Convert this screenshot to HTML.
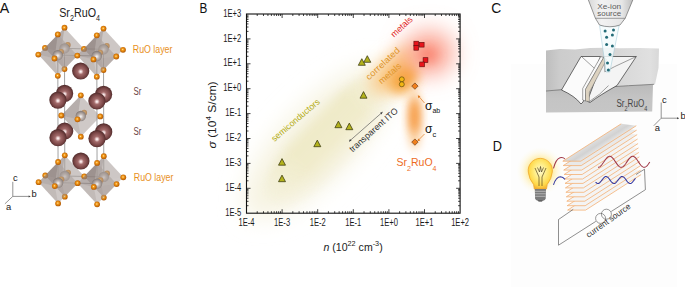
<!DOCTYPE html>
<html><head><meta charset="utf-8"><style>
html,body{margin:0;padding:0;background:#fff;}
body{width:685px;height:287px;overflow:hidden;font-family:"Liberation Sans", sans-serif;}
svg{display:block;}
</style></head><body>
<svg width="685" height="287" viewBox="0 0 685 287" style="font-family:&quot;Liberation Sans&quot;, sans-serif">

<defs>
 <radialGradient id="gO" cx="45%" cy="45%" r="60%">
  <stop offset="0" stop-color="#ffe8a8"/>
  <stop offset="0.3" stop-color="#f59a18"/>
  <stop offset="1" stop-color="#a85000"/>
 </radialGradient>
 <radialGradient id="gRu" cx="50%" cy="55%" r="60%">
  <stop offset="0" stop-color="#f8f6f4"/>
  <stop offset="0.35" stop-color="#c4bab6"/>
  <stop offset="1" stop-color="#746a66"/>
 </radialGradient>
 <radialGradient id="gSr" cx="50%" cy="52%" r="52%" fx="50%" fy="54%">
  <stop offset="0" stop-color="#ffffff"/>
  <stop offset="0.1" stop-color="#f2dcdc"/>
  <stop offset="0.32" stop-color="#a26a6a"/>
  <stop offset="0.72" stop-color="#7a4646"/>
  <stop offset="1" stop-color="#4c2828"/>
 </radialGradient>
 <radialGradient id="gSemi" cx="50%" cy="50%" r="50%">
  <stop offset="0" stop-color="#e9e2b0" stop-opacity="1"/>
  <stop offset="0.5" stop-color="#efe9c4" stop-opacity="0.85"/>
  <stop offset="1" stop-color="#f6f2dc" stop-opacity="0"/>
 </radialGradient>
 <radialGradient id="gOr" cx="50%" cy="50%" r="50%">
  <stop offset="0" stop-color="#f7a640" stop-opacity="1"/>
  <stop offset="0.5" stop-color="#fbc070" stop-opacity="0.6"/>
  <stop offset="1" stop-color="#fde0b0" stop-opacity="0"/>
 </radialGradient>
 <radialGradient id="gRed" cx="50%" cy="50%" r="50%">
  <stop offset="0" stop-color="#fb6a55" stop-opacity="1"/>
  <stop offset="0.45" stop-color="#fc9a85" stop-opacity="0.7"/>
  <stop offset="1" stop-color="#ffe0d8" stop-opacity="0"/>
 </radialGradient>
 <radialGradient id="gStreak" cx="50%" cy="50%" r="50%">
  <stop offset="0" stop-color="#f8a048" stop-opacity="1"/>
  <stop offset="0.6" stop-color="#fbc488" stop-opacity="0.6"/>
  <stop offset="1" stop-color="#fde6cc" stop-opacity="0"/>
 </radialGradient>
 <radialGradient id="gGlow" cx="50%" cy="50%" r="50%">
  <stop offset="0" stop-color="#ffe470" stop-opacity="1"/>
  <stop offset="0.5" stop-color="#ffe98e" stop-opacity="0.8"/>
  <stop offset="0.78" stop-color="#fff4c8" stop-opacity="0.35"/>
  <stop offset="1" stop-color="#fffbe8" stop-opacity="0"/>
 </radialGradient>
 <radialGradient id="gBulb" cx="50%" cy="42%" r="58%">
  <stop offset="0" stop-color="#fffad0"/>
  <stop offset="0.45" stop-color="#ffec80"/>
  <stop offset="0.8" stop-color="#ffd848"/>
  <stop offset="1" stop-color="#f5b434"/>
 </radialGradient>
 <filter id="blur9" x="-100%" y="-100%" width="300%" height="300%"><feGaussianBlur stdDeviation="9"/></filter>
 <filter id="blur7" x="-100%" y="-100%" width="300%" height="300%"><feGaussianBlur stdDeviation="7"/></filter>
 <filter id="blur5" x="-100%" y="-100%" width="300%" height="300%"><feGaussianBlur stdDeviation="5"/></filter>
 <filter id="blur6" x="-100%" y="-100%" width="300%" height="300%"><feGaussianBlur stdDeviation="6"/></filter>
 <filter id="blur8" x="-100%" y="-100%" width="300%" height="300%"><feGaussianBlur stdDeviation="8"/></filter>
 <filter id="blur10" x="-100%" y="-100%" width="300%" height="300%"><feGaussianBlur stdDeviation="10"/></filter>
 <linearGradient id="gBand" x1="0" y1="0" x2="1" y2="0">
  <stop offset="0" stop-color="#f4f0d6"/>
  <stop offset="0.3" stop-color="#ece6c2"/>
  <stop offset="1" stop-color="#ece6c2"/>
 </linearGradient>
 <filter id="blur12" x="-100%" y="-100%" width="300%" height="300%"><feGaussianBlur stdDeviation="12"/></filter>
 <linearGradient id="gBand2" x1="0" y1="0" x2="0" y2="1">
  <stop offset="0" stop-color="#efeac8" stop-opacity="0"/>
  <stop offset="0.2" stop-color="#efeac8" stop-opacity="1"/>
  <stop offset="0.55" stop-color="#f0ebca" stop-opacity="0.95"/>
  <stop offset="1" stop-color="#f4f0da" stop-opacity="0"/>
 </linearGradient>
 <linearGradient id="gMaskU" x1="0" y1="0" x2="1" y2="0">
  <stop offset="0" stop-color="#fff" stop-opacity="0"/>
  <stop offset="0.3" stop-color="#fff" stop-opacity="1"/>
  <stop offset="0.72" stop-color="#fff" stop-opacity="1"/>
  <stop offset="0.95" stop-color="#fff" stop-opacity="0"/>
 </linearGradient>
 <mask id="mBand" maskUnits="userSpaceOnUse" x="200" y="0" width="300" height="260">
  <rect x="-90" y="-45" width="180" height="90" fill="url(#gMaskU)" transform="translate(331,139) rotate(-46)"/>
 </mask>
 <filter id="blur3" x="-100%" y="-100%" width="300%" height="300%"><feGaussianBlur stdDeviation="3"/></filter>
 <linearGradient id="gSrc" x1="0" y1="0" x2="1" y2="0">
  <stop offset="0" stop-color="#d8d8d8"/>
  <stop offset="0.3" stop-color="#f2f2f2"/>
  <stop offset="0.75" stop-color="#e6e6e6"/>
  <stop offset="1" stop-color="#bdbdbd"/>
 </linearGradient>
 <linearGradient id="gBlockTop" x1="0" y1="0" x2="1" y2="0">
  <stop offset="0" stop-color="#bebebe"/>
  <stop offset="0.12" stop-color="#cccccc"/>
  <stop offset="0.6" stop-color="#d6d6d6"/>
  <stop offset="0.92" stop-color="#e0e0e0"/>
  <stop offset="1" stop-color="#d8d8d8"/>
 </linearGradient>
 <linearGradient id="gBlockFront" x1="0" y1="0" x2="0" y2="1">
  <stop offset="0" stop-color="#bababa"/>
  <stop offset="0.5" stop-color="#c4c4c4"/>
  <stop offset="1" stop-color="#c6c6c6"/>
 </linearGradient>
 <linearGradient id="gPlate" gradientUnits="userSpaceOnUse" x1="592" y1="142.5" x2="597.4" y2="150.9">
  <stop offset="0" stop-color="#dedede"/>
  <stop offset="0.5" stop-color="#d2d2d2"/>
  <stop offset="1" stop-color="#e6e6e6"/>
 </linearGradient>
</defs>

<rect width="685" height="287" fill="#fff"/>
<g><line x1="64.5" y1="48.4" x2="64.8" y2="176.0" stroke="#8a8a8a" stroke-width="0.8"/><line x1="103.5" y1="49.3" x2="103.8" y2="176.9" stroke="#8a8a8a" stroke-width="0.8"/><line x1="57.8" y1="55.1" x2="58.1" y2="182.7" stroke="#8a8a8a" stroke-width="0.8"/><line x1="96.8" y1="56.0" x2="97.1" y2="183.6" stroke="#8a8a8a" stroke-width="0.8"/><line x1="64.5" y1="48.4" x2="57.8" y2="55.1" stroke="#8a8a8a" stroke-width="0.8"/><line x1="103.5" y1="49.3" x2="96.8" y2="56.0" stroke="#8a8a8a" stroke-width="0.8"/><line x1="64.5" y1="48.4" x2="103.5" y2="49.3" stroke="#8a8a8a" stroke-width="0.8"/><line x1="57.8" y1="55.1" x2="96.8" y2="56.0" stroke="#8a8a8a" stroke-width="0.8"/><line x1="64.8" y1="176.0" x2="58.1" y2="182.7" stroke="#8a8a8a" stroke-width="0.8"/><line x1="103.8" y1="176.9" x2="97.1" y2="183.6" stroke="#8a8a8a" stroke-width="0.8"/><line x1="64.8" y1="176.0" x2="103.8" y2="176.9" stroke="#8a8a8a" stroke-width="0.8"/><line x1="58.1" y1="182.7" x2="97.1" y2="183.6" stroke="#8a8a8a" stroke-width="0.8"/><circle cx="107.1" cy="173.5" r="2.9" fill="url(#gO)"/><circle cx="106.8" cy="45.9" r="2.9" fill="url(#gO)"/><circle cx="67.8" cy="45.0" r="2.9" fill="url(#gO)"/><circle cx="68.1" cy="172.6" r="2.9" fill="url(#gO)"/><polygon points="103.5,28.6 84.0,48.9 103.5,70.0 123.0,49.8" fill="#a0948f" fill-opacity="0.5"/><polygon points="103.5,28.6 84.0,48.9 100.2,52.6" fill="#7e726e" fill-opacity="0.3"/><polygon points="103.5,28.6 100.2,52.6 123.0,49.8" fill="#cac2be" fill-opacity="0.2"/><polygon points="103.5,70.0 84.0,48.9 100.2,52.6" fill="#968a86" fill-opacity="0.22"/><polygon points="103.8,156.2 84.3,176.4 103.8,197.6 123.3,177.3" fill="#a0948f" fill-opacity="0.5"/><polygon points="103.8,156.2 84.3,176.4 100.5,180.2" fill="#7e726e" fill-opacity="0.3"/><polygon points="103.8,156.2 100.5,180.2 123.3,177.3" fill="#cac2be" fill-opacity="0.2"/><polygon points="103.8,197.6 84.3,176.4 100.5,180.2" fill="#968a86" fill-opacity="0.22"/><polygon points="64.5,27.7 45.0,47.9 64.5,69.1 84.0,48.9" fill="#a0948f" fill-opacity="0.5"/><polygon points="64.5,27.7 45.0,47.9 61.1,51.8" fill="#7e726e" fill-opacity="0.3"/><polygon points="64.5,27.7 61.1,51.8 84.0,48.9" fill="#cac2be" fill-opacity="0.2"/><polygon points="64.5,69.1 45.0,47.9 61.1,51.8" fill="#968a86" fill-opacity="0.22"/><polygon points="64.8,155.3 45.3,175.5 64.8,196.7 84.3,176.4" fill="#a0948f" fill-opacity="0.5"/><polygon points="64.8,155.3 45.3,175.5 61.4,179.3" fill="#7e726e" fill-opacity="0.3"/><polygon points="64.8,155.3 61.4,179.3 84.3,176.4" fill="#cac2be" fill-opacity="0.2"/><polygon points="64.8,196.7 45.3,175.5 61.4,179.3" fill="#968a86" fill-opacity="0.22"/><circle cx="103.5" cy="49.3" r="5.2" fill="url(#gRu)"/><circle cx="103.8" cy="176.9" r="5.2" fill="url(#gRu)"/><circle cx="64.5" cy="48.4" r="5.2" fill="url(#gRu)"/><circle cx="64.8" cy="176.0" r="5.2" fill="url(#gRu)"/><circle cx="103.6" cy="94.3" r="8.6" fill="url(#gSr)"/><circle cx="103.7" cy="131.9" r="8.6" fill="url(#gSr)"/><circle cx="123.3" cy="177.3" r="2.9" fill="url(#gO)"/><circle cx="123.0" cy="49.8" r="2.9" fill="url(#gO)"/><circle cx="103.8" cy="156.2" r="2.9" fill="url(#gO)"/><circle cx="103.5" cy="28.6" r="2.9" fill="url(#gO)"/><circle cx="103.8" cy="197.6" r="2.9" fill="url(#gO)"/><circle cx="103.5" cy="70.0" r="2.9" fill="url(#gO)"/><circle cx="64.6" cy="93.4" r="8.6" fill="url(#gSr)"/><circle cx="64.7" cy="131.0" r="8.6" fill="url(#gSr)"/><circle cx="84.0" cy="48.9" r="2.9" fill="url(#gO)"/><circle cx="84.2" cy="112.7" r="2.9" fill="url(#gO)"/><circle cx="84.3" cy="176.4" r="2.9" fill="url(#gO)"/><circle cx="64.8" cy="196.7" r="2.9" fill="url(#gO)"/><circle cx="64.5" cy="69.1" r="2.9" fill="url(#gO)"/><circle cx="64.8" cy="155.3" r="2.9" fill="url(#gO)"/><circle cx="64.5" cy="27.7" r="2.9" fill="url(#gO)"/><circle cx="45.3" cy="175.5" r="2.9" fill="url(#gO)"/><circle cx="45.0" cy="47.9" r="2.9" fill="url(#gO)"/><polygon points="80.8,95.3 61.3,115.5 80.8,136.7 100.3,116.4" fill="#a0948f" fill-opacity="0.5"/><polygon points="80.8,95.3 61.3,115.5 77.5,119.3" fill="#7e726e" fill-opacity="0.3"/><polygon points="80.8,95.3 77.5,119.3 100.3,116.4" fill="#cac2be" fill-opacity="0.2"/><polygon points="80.8,136.7 61.3,115.5 77.5,119.3" fill="#968a86" fill-opacity="0.22"/><circle cx="80.8" cy="116.0" r="5.2" fill="url(#gRu)"/><circle cx="80.7" cy="71.0" r="8.6" fill="url(#gSr)"/><circle cx="80.9" cy="161.0" r="8.6" fill="url(#gSr)"/><circle cx="100.2" cy="52.6" r="2.9" fill="url(#gO)"/><circle cx="100.3" cy="116.4" r="2.9" fill="url(#gO)"/><circle cx="100.5" cy="180.2" r="2.9" fill="url(#gO)"/><circle cx="80.8" cy="136.7" r="2.9" fill="url(#gO)"/><circle cx="80.8" cy="95.3" r="2.9" fill="url(#gO)"/><circle cx="61.4" cy="179.3" r="2.9" fill="url(#gO)"/><circle cx="61.1" cy="51.8" r="2.9" fill="url(#gO)"/><circle cx="61.3" cy="115.5" r="2.9" fill="url(#gO)"/><polygon points="96.8,35.3 77.3,55.6 96.8,76.7 116.3,56.5" fill="#a0948f" fill-opacity="0.5"/><polygon points="96.8,35.3 77.3,55.6 93.5,59.4" fill="#7e726e" fill-opacity="0.3"/><polygon points="96.8,35.3 93.5,59.4 116.3,56.5" fill="#cac2be" fill-opacity="0.2"/><polygon points="96.8,76.7 77.3,55.6 93.5,59.4" fill="#968a86" fill-opacity="0.22"/><polygon points="97.1,162.9 77.6,183.2 97.1,204.3 116.6,184.1" fill="#a0948f" fill-opacity="0.5"/><polygon points="97.1,162.9 77.6,183.2 93.8,186.9" fill="#7e726e" fill-opacity="0.3"/><polygon points="97.1,162.9 93.8,186.9 116.6,184.1" fill="#cac2be" fill-opacity="0.2"/><polygon points="97.1,204.3 77.6,183.2 93.8,186.9" fill="#968a86" fill-opacity="0.22"/><polygon points="57.8,34.4 38.3,54.6 57.8,75.8 77.3,55.6" fill="#a0948f" fill-opacity="0.5"/><polygon points="57.8,34.4 38.3,54.6 54.5,58.5" fill="#7e726e" fill-opacity="0.3"/><polygon points="57.8,34.4 54.5,58.5 77.3,55.6" fill="#cac2be" fill-opacity="0.2"/><polygon points="57.8,75.8 38.3,54.6 54.5,58.5" fill="#968a86" fill-opacity="0.22"/><polygon points="58.1,162.0 38.6,182.2 58.1,203.4 77.6,183.2" fill="#a0948f" fill-opacity="0.5"/><polygon points="58.1,162.0 38.6,182.2 54.8,186.1" fill="#7e726e" fill-opacity="0.3"/><polygon points="58.1,162.0 54.8,186.1 77.6,183.2" fill="#cac2be" fill-opacity="0.2"/><polygon points="58.1,203.4 38.6,182.2 54.8,186.1" fill="#968a86" fill-opacity="0.22"/><circle cx="96.8" cy="56.0" r="5.2" fill="url(#gRu)"/><circle cx="97.1" cy="183.6" r="5.2" fill="url(#gRu)"/><circle cx="57.8" cy="55.1" r="5.2" fill="url(#gRu)"/><circle cx="58.1" cy="182.7" r="5.2" fill="url(#gRu)"/><circle cx="96.9" cy="101.0" r="8.6" fill="url(#gSr)"/><circle cx="97.0" cy="138.6" r="8.6" fill="url(#gSr)"/><circle cx="116.6" cy="184.1" r="2.9" fill="url(#gO)"/><circle cx="116.3" cy="56.5" r="2.9" fill="url(#gO)"/><circle cx="96.8" cy="76.7" r="2.9" fill="url(#gO)"/><circle cx="97.1" cy="162.9" r="2.9" fill="url(#gO)"/><circle cx="96.8" cy="35.3" r="2.9" fill="url(#gO)"/><circle cx="97.1" cy="204.3" r="2.9" fill="url(#gO)"/><circle cx="57.9" cy="100.1" r="8.6" fill="url(#gSr)"/><circle cx="58.0" cy="137.7" r="8.6" fill="url(#gSr)"/><circle cx="77.3" cy="55.6" r="2.9" fill="url(#gO)"/><circle cx="77.5" cy="119.3" r="2.9" fill="url(#gO)"/><circle cx="77.6" cy="183.2" r="2.9" fill="url(#gO)"/><circle cx="58.1" cy="203.4" r="2.9" fill="url(#gO)"/><circle cx="57.8" cy="75.8" r="2.9" fill="url(#gO)"/><circle cx="58.1" cy="162.0" r="2.9" fill="url(#gO)"/><circle cx="57.8" cy="34.4" r="2.9" fill="url(#gO)"/><circle cx="38.6" cy="182.2" r="2.9" fill="url(#gO)"/><circle cx="38.3" cy="54.6" r="2.9" fill="url(#gO)"/><circle cx="93.8" cy="186.9" r="2.9" fill="url(#gO)"/><circle cx="93.5" cy="59.4" r="2.9" fill="url(#gO)"/><circle cx="54.8" cy="186.1" r="2.9" fill="url(#gO)"/><circle cx="54.5" cy="58.5" r="2.9" fill="url(#gO)"/></g>
<path d="M12.8 196.4 V181.8 M12.8 196.4 H30 M12.8 196.4 L4.9 203.8" stroke="#666" stroke-width="0.7" fill="none"/><path d="M30.8 196.4 l-2.2 -1 v2 z" fill="#444"/><text x="13.1" y="180.6" font-size="9.4" fill="#222" >c</text><text x="31.4" y="197.1" font-size="9.4" fill="#222" >b</text><text x="6.1" y="209.6" font-size="9.4" fill="#222" >a</text>
<text x="-0.3" y="12.5" font-size="14.5" fill="#111" textLength="9.5" lengthAdjust="spacingAndGlyphs" >A</text><text x="199.6" y="12.6" font-size="14.5" fill="#111" textLength="7.8" lengthAdjust="spacingAndGlyphs" >B</text><text x="491.3" y="12.6" font-size="14.5" fill="#111" textLength="10" lengthAdjust="spacingAndGlyphs" >C</text><text x="492.8" y="151.4" font-size="14.5" fill="#111" textLength="9.2" lengthAdjust="spacingAndGlyphs" >D</text><text x="59.2" y="16.6" font-size="12.2" fill="#222" textLength="40.8" lengthAdjust="spacingAndGlyphs" >Sr<tspan font-size="8.2" dy="4">2</tspan><tspan dy="-4">RuO</tspan><tspan font-size="8.2" dy="4">4</tspan></text><text x="132.8" y="53.3" font-size="10" fill="#e8901c" textLength="39.6" lengthAdjust="spacingAndGlyphs" >RuO layer</text><text x="133.6" y="94.5" font-size="10" fill="#6a4242" textLength="7.9" lengthAdjust="spacingAndGlyphs" >Sr</text><text x="133.6" y="134.5" font-size="10" fill="#6a4242" textLength="7.9" lengthAdjust="spacingAndGlyphs" >Sr</text><text x="133.8" y="181.2" font-size="10" fill="#e8901c" textLength="39.6" lengthAdjust="spacingAndGlyphs" >RuO layer</text>
<g><g filter="url(#blur12)"><ellipse cx="0" cy="0" rx="100" ry="36" fill="#f6f3e0" transform="translate(318,142) rotate(-46)"/></g><g mask="url(#mBand)"><g filter="url(#blur3)"><ellipse cx="0" cy="0" rx="90" ry="32" fill="url(#gBand2)" transform="translate(331,139) rotate(-46)"/></g></g><g filter="url(#blur8)"><ellipse cx="0" cy="0" rx="30" ry="14" fill="#fac884" transform="translate(394,70) rotate(-45)"/></g><g filter="url(#blur6)"><ellipse cx="0" cy="0" rx="17" ry="12" fill="#f6a63c" transform="translate(404,79) rotate(-45)"/></g><g filter="url(#blur5)"><ellipse cx="0" cy="0" rx="6" ry="30" fill="#fbc890" transform="translate(414.5,120)"/></g><g filter="url(#blur5)"><ellipse cx="0" cy="0" rx="4.5" ry="17" fill="#f59235" transform="translate(414.5,116)"/></g><g filter="url(#blur12)"><ellipse cx="0" cy="0" rx="24" ry="21" fill="#fb9a86" transform="translate(429,53)"/></g><g filter="url(#blur6)"><ellipse cx="0" cy="0" rx="7" ry="7" fill="#f97a66" transform="translate(428,55)"/></g><rect x="246.5" y="14.0" width="213.6" height="199.2" fill="none" stroke="#111" stroke-width="1.1"/><path d="M257.22 213.20v-2M257.22 14.00v2M263.49 213.20v-2M263.49 14.00v2M267.93 213.20v-2M267.93 14.00v2M271.38 213.20v-2M271.38 14.00v2M274.20 213.20v-2M274.20 14.00v2M276.59 213.20v-2M276.59 14.00v2M278.65 213.20v-2M278.65 14.00v2M280.47 213.20v-2M280.47 14.00v2M282.10 213.20v-4M282.10 14.00v4M292.82 213.20v-2M292.82 14.00v2M299.09 213.20v-2M299.09 14.00v2M303.53 213.20v-2M303.53 14.00v2M306.98 213.20v-2M306.98 14.00v2M309.80 213.20v-2M309.80 14.00v2M312.19 213.20v-2M312.19 14.00v2M314.25 213.20v-2M314.25 14.00v2M316.07 213.20v-2M316.07 14.00v2M317.70 213.20v-4M317.70 14.00v4M328.42 213.20v-2M328.42 14.00v2M334.69 213.20v-2M334.69 14.00v2M339.13 213.20v-2M339.13 14.00v2M342.58 213.20v-2M342.58 14.00v2M345.40 213.20v-2M345.40 14.00v2M347.79 213.20v-2M347.79 14.00v2M349.85 213.20v-2M349.85 14.00v2M351.67 213.20v-2M351.67 14.00v2M353.30 213.20v-4M353.30 14.00v4M364.02 213.20v-2M364.02 14.00v2M370.29 213.20v-2M370.29 14.00v2M374.73 213.20v-2M374.73 14.00v2M378.18 213.20v-2M378.18 14.00v2M381.00 213.20v-2M381.00 14.00v2M383.39 213.20v-2M383.39 14.00v2M385.45 213.20v-2M385.45 14.00v2M387.27 213.20v-2M387.27 14.00v2M388.90 213.20v-4M388.90 14.00v4M399.62 213.20v-2M399.62 14.00v2M405.89 213.20v-2M405.89 14.00v2M410.33 213.20v-2M410.33 14.00v2M413.78 213.20v-2M413.78 14.00v2M416.60 213.20v-2M416.60 14.00v2M418.99 213.20v-2M418.99 14.00v2M421.05 213.20v-2M421.05 14.00v2M422.87 213.20v-2M422.87 14.00v2M424.50 213.20v-4M424.50 14.00v4M435.22 213.20v-2M435.22 14.00v2M441.49 213.20v-2M441.49 14.00v2M445.93 213.20v-2M445.93 14.00v2M449.38 213.20v-2M449.38 14.00v2M452.20 213.20v-2M452.20 14.00v2M454.59 213.20v-2M454.59 14.00v2M456.65 213.20v-2M456.65 14.00v2M458.47 213.20v-2M458.47 14.00v2M246.50 205.70h2M460.10 205.70h-2M246.50 201.32h2M460.10 201.32h-2M246.50 198.21h2M460.10 198.21h-2M246.50 195.80h2M460.10 195.80h-2M246.50 193.82h2M460.10 193.82h-2M246.50 192.16h2M460.10 192.16h-2M246.50 190.71h2M460.10 190.71h-2M246.50 189.44h2M460.10 189.44h-2M246.50 188.30h4M460.10 188.30h-4M246.50 180.80h2M460.10 180.80h-2M246.50 176.42h2M460.10 176.42h-2M246.50 173.31h2M460.10 173.31h-2M246.50 170.90h2M460.10 170.90h-2M246.50 168.92h2M460.10 168.92h-2M246.50 167.26h2M460.10 167.26h-2M246.50 165.81h2M460.10 165.81h-2M246.50 164.54h2M460.10 164.54h-2M246.50 163.40h4M460.10 163.40h-4M246.50 155.90h2M460.10 155.90h-2M246.50 151.52h2M460.10 151.52h-2M246.50 148.41h2M460.10 148.41h-2M246.50 146.00h2M460.10 146.00h-2M246.50 144.02h2M460.10 144.02h-2M246.50 142.36h2M460.10 142.36h-2M246.50 140.91h2M460.10 140.91h-2M246.50 139.64h2M460.10 139.64h-2M246.50 138.50h4M460.10 138.50h-4M246.50 131.00h2M460.10 131.00h-2M246.50 126.62h2M460.10 126.62h-2M246.50 123.51h2M460.10 123.51h-2M246.50 121.10h2M460.10 121.10h-2M246.50 119.12h2M460.10 119.12h-2M246.50 117.46h2M460.10 117.46h-2M246.50 116.01h2M460.10 116.01h-2M246.50 114.74h2M460.10 114.74h-2M246.50 113.60h4M460.10 113.60h-4M246.50 106.10h2M460.10 106.10h-2M246.50 101.72h2M460.10 101.72h-2M246.50 98.61h2M460.10 98.61h-2M246.50 96.20h2M460.10 96.20h-2M246.50 94.22h2M460.10 94.22h-2M246.50 92.56h2M460.10 92.56h-2M246.50 91.11h2M460.10 91.11h-2M246.50 89.84h2M460.10 89.84h-2M246.50 88.70h4M460.10 88.70h-4M246.50 81.20h2M460.10 81.20h-2M246.50 76.82h2M460.10 76.82h-2M246.50 73.71h2M460.10 73.71h-2M246.50 71.30h2M460.10 71.30h-2M246.50 69.32h2M460.10 69.32h-2M246.50 67.66h2M460.10 67.66h-2M246.50 66.21h2M460.10 66.21h-2M246.50 64.94h2M460.10 64.94h-2M246.50 63.80h4M460.10 63.80h-4M246.50 56.30h2M460.10 56.30h-2M246.50 51.92h2M460.10 51.92h-2M246.50 48.81h2M460.10 48.81h-2M246.50 46.40h2M460.10 46.40h-2M246.50 44.42h2M460.10 44.42h-2M246.50 42.76h2M460.10 42.76h-2M246.50 41.31h2M460.10 41.31h-2M246.50 40.04h2M460.10 40.04h-2M246.50 38.90h4M460.10 38.90h-4M246.50 31.40h2M460.10 31.40h-2M246.50 27.02h2M460.10 27.02h-2M246.50 23.91h2M460.10 23.91h-2M246.50 21.50h2M460.10 21.50h-2M246.50 19.52h2M460.10 19.52h-2M246.50 17.86h2M460.10 17.86h-2M246.50 16.41h2M460.10 16.41h-2M246.50 15.14h2M460.10 15.14h-2" stroke="#111" stroke-width="0.8" fill="none"/><text x="0" y="0" font-size="10" fill="#1a1a1a" text-anchor="middle" transform="translate(246.5,226.1) scale(0.76,1)">1E-4</text><text x="0" y="0" font-size="10" fill="#1a1a1a" text-anchor="middle" transform="translate(282.1,226.1) scale(0.76,1)">1E-3</text><text x="0" y="0" font-size="10" fill="#1a1a1a" text-anchor="middle" transform="translate(317.7,226.1) scale(0.76,1)">1E-2</text><text x="0" y="0" font-size="10" fill="#1a1a1a" text-anchor="middle" transform="translate(353.3,226.1) scale(0.76,1)">1E-1</text><text x="0" y="0" font-size="10" fill="#1a1a1a" text-anchor="middle" transform="translate(388.9,226.1) scale(0.76,1)">1E+0</text><text x="0" y="0" font-size="10" fill="#1a1a1a" text-anchor="middle" transform="translate(424.5,226.1) scale(0.76,1)">1E+1</text><text x="0" y="0" font-size="10" fill="#1a1a1a" text-anchor="middle" transform="translate(460.1,226.1) scale(0.76,1)">1E+2</text><text x="0" y="0" font-size="10" fill="#1a1a1a" text-anchor="end" transform="translate(241.2,215.8) scale(0.76,1)">1E-5</text><text x="0" y="0" font-size="10" fill="#1a1a1a" text-anchor="end" transform="translate(241.2,190.9) scale(0.76,1)">1E-4</text><text x="0" y="0" font-size="10" fill="#1a1a1a" text-anchor="end" transform="translate(241.2,166.0) scale(0.76,1)">1E-3</text><text x="0" y="0" font-size="10" fill="#1a1a1a" text-anchor="end" transform="translate(241.2,141.1) scale(0.76,1)">1E-2</text><text x="0" y="0" font-size="10" fill="#1a1a1a" text-anchor="end" transform="translate(241.2,116.2) scale(0.76,1)">1E-1</text><text x="0" y="0" font-size="10" fill="#1a1a1a" text-anchor="end" transform="translate(241.2,91.3) scale(0.76,1)">1E+0</text><text x="0" y="0" font-size="10" fill="#1a1a1a" text-anchor="end" transform="translate(241.2,66.4) scale(0.76,1)">1E+1</text><text x="0" y="0" font-size="10" fill="#1a1a1a" text-anchor="end" transform="translate(241.2,41.5) scale(0.76,1)">1E+2</text><text x="0" y="0" font-size="10" fill="#1a1a1a" text-anchor="end" transform="translate(241.2,16.6) scale(0.76,1)">1E+3</text><polygon points="282.0,158.6 278.5,165.2 285.5,165.2" fill="#b3b21c" stroke="#3a3810" stroke-width="0.75" stroke-linejoin="round"/><polygon points="282.0,175.1 278.5,181.7 285.5,181.7" fill="#b3b21c" stroke="#3a3810" stroke-width="0.75" stroke-linejoin="round"/><polygon points="317.3,140.1 313.8,146.7 320.8,146.7" fill="#b3b21c" stroke="#3a3810" stroke-width="0.75" stroke-linejoin="round"/><polygon points="338.4,121.1 334.9,127.7 341.9,127.7" fill="#b3b21c" stroke="#3a3810" stroke-width="0.75" stroke-linejoin="round"/><polygon points="349.3,123.1 345.8,129.7 352.8,129.7" fill="#b3b21c" stroke="#3a3810" stroke-width="0.75" stroke-linejoin="round"/><polygon points="363.5,91.6 360.0,98.2 367.0,98.2" fill="#b3b21c" stroke="#3a3810" stroke-width="0.75" stroke-linejoin="round"/><polygon points="361.8,58.7 358.3,65.3 365.3,65.3" fill="#b3b21c" stroke="#3a3810" stroke-width="0.75" stroke-linejoin="round"/><polygon points="367.3,55.7 363.8,62.3 370.8,62.3" fill="#b3b21c" stroke="#3a3810" stroke-width="0.75" stroke-linejoin="round"/><rect x="413.9" y="41.2" width="4.8" height="4.8" fill="#e8141c" stroke="#5a0a0a" stroke-width="0.6"/><rect x="419.3" y="42.3" width="4.8" height="4.8" fill="#e8141c" stroke="#5a0a0a" stroke-width="0.6"/><rect x="413.9" y="45.4" width="4.8" height="4.8" fill="#e8141c" stroke="#5a0a0a" stroke-width="0.6"/><rect x="423.1" y="57.7" width="4.8" height="4.8" fill="#e8141c" stroke="#5a0a0a" stroke-width="0.6"/><rect x="419.7" y="62.0" width="4.8" height="4.8" fill="#e8141c" stroke="#5a0a0a" stroke-width="0.6"/><circle cx="401.8" cy="79.3" r="2.5" fill="#f2b614" stroke="#4a3a08" stroke-width="0.6"/><circle cx="401.8" cy="84.3" r="2.5" fill="#f2b614" stroke="#4a3a08" stroke-width="0.6"/><polygon points="414.9,82.9 418.1,86.1 414.9,89.3 411.7,86.1" fill="#f07f1c" stroke="#5a2a08" stroke-width="0.6"/><polygon points="414.9,138.9 418.1,142.1 414.9,145.3 411.7,142.1" fill="#f07f1c" stroke="#5a2a08" stroke-width="0.6"/><path d="M424.5 103 L419 96.6" stroke="#e07a20" stroke-width="0.7" fill="none"/><path d="M417.8 95.2 l0.5 3.0 l2.1 -1.9 z" fill="#e07a20"/><path d="M424.5 134 L418.5 140" stroke="#e07a20" stroke-width="0.7" fill="none"/><path d="M417.3 141.2 l3.0 -0.6 l-2.0 -2.0 z" fill="#e07a20"/><text x="425" y="110" font-size="12" fill="#111" >σ<tspan font-size="7" dy="3">ab</tspan></text><text x="425" y="133" font-size="12" fill="#111" >σ<tspan font-size="7.5" dy="3.5">c</tspan></text><text x="396.5" y="166.3" font-size="11.2" fill="#ee6c1e" textLength="40" lengthAdjust="spacingAndGlyphs" >Sr<tspan font-size="7.5" dy="4.5">2</tspan><tspan dy="-4.5">RuO</tspan><tspan font-size="7.5" dy="4.5">4</tspan></text><text x="0" y="0" font-size="8.8" fill="#b3ab12" textLength="60.5" lengthAdjust="spacingAndGlyphs" transform="translate(274.5,142) rotate(-40.5)" >semiconductors</text><text x="0" y="0" font-size="8.8" fill="#e0962c" textLength="43" lengthAdjust="spacingAndGlyphs" transform="translate(369,80.5) rotate(-43)" >correlated</text><text x="0" y="0" font-size="8.8" fill="#e0962c" textLength="27" lengthAdjust="spacingAndGlyphs" transform="translate(381.5,84.5) rotate(-41)" >metals</text><text x="0" y="0" font-size="8.8" fill="#e01c1c" textLength="26" lengthAdjust="spacingAndGlyphs" transform="translate(394,37.8) rotate(-42.5)" >metals</text><text x="0" y="0" font-size="8.8" fill="#333" textLength="61.5" lengthAdjust="spacingAndGlyphs" transform="translate(352.5,152.5) rotate(-41.5)" >transparent ITO</text><path d="M349 141.5 L382.6 112" stroke="#444" stroke-width="0.6"/><path d="M349 141.5 l1.0 -2.6 l1.6 1.8 z M382.6 112 l-1.0 2.6 l-1.6 -1.8 z" fill="#444"/><text x="323.5" y="250.6" font-size="10.2" fill="#222" textLength="59.2" lengthAdjust="spacingAndGlyphs" ><tspan font-style="italic">n</tspan> (10<tspan font-size="7" dy="-4.5">22</tspan><tspan dy="4.5"> cm</tspan><tspan font-size="7" dy="-4.5">-3</tspan><tspan dy="4.5">)</tspan></text><text x="0" y="0" font-size="10.2" fill="#222" textLength="67" lengthAdjust="spacingAndGlyphs" transform="translate(215.5,148.4) rotate(-90)" ><tspan font-style="italic">σ</tspan> (10<tspan font-size="7" dy="-4.5">4</tspan><tspan dy="4.5"> S/cm)</tspan></text></g>
<g><rect x="511" y="64" width="166" height="223" fill="#fdfdfd"/><path d="M546 50.5 L560 49 L575 49.5 L590 48 L605 47.8 L620 48.3 L640 48 L659 48.5 L658.5 68 L655 84.5 L546 91 Z" fill="url(#gBlockTop)"/><path d="M546 91 Q575 88 600 87.5 Q630 85.5 653 84.5 L652.2 111.6 L600 112 L546 112.6 Z" fill="url(#gBlockFront)"/><path d="M546 91 Q575 88 600 87.5 Q630 85.5 654 84.3" stroke="#555" stroke-width="0.6" fill="none"/><path d="M581 56.5 L600.5 56.5 L583 102 L581 104 Q575 96 561.5 90 Z" fill="#fbfbfb" stroke="#333" stroke-width="0.7"/><path d="M604 56.5 L636.3 56.5 L617 85.5 Q600 95 590 102.5 L587.3 101.3 Z" fill="#f4f4f4" stroke="#333" stroke-width="0.7"/><path d="M600.8 56.5 L603.7 57.5 L585.5 89.4 L585.5 101 L582.7 100 L582.7 88.5 Z" fill="#fafafa" stroke="#555" stroke-width="0.55" stroke-linejoin="round"/><path d="M603.7 57.5 L606.6 59.5 L589.4 92.3 L589.4 101.5 L585.5 101 L585.5 89.4 Z" fill="#dcd2c0" stroke="#666" stroke-width="0.5" stroke-linejoin="round"/><path d="M581.3 56.4 L594.3 68.2 M604.8 58.3 L604.8 71.8 L614.7 66.6 L636.3 56.5 M589.4 101.5 Q600 95 608.5 85.6" stroke="#555" stroke-width="0.55" fill="none"/><path d="M599.6 25.7 L619.1 25.7 L609.8 72 L606.1 72 Z" fill="#f5fbfd" fill-opacity="0.85" stroke="#9cc8d6" stroke-width="0.5"/><circle cx="605.1" cy="31" r="1.5" fill="#236c78"/><circle cx="613.5" cy="30" r="1.5" fill="#236c78"/><circle cx="606.6" cy="37.2" r="1.5" fill="#236c78"/><circle cx="612.4" cy="35.1" r="1.5" fill="#236c78"/><circle cx="606.6" cy="44.4" r="1.5" fill="#236c78"/><circle cx="612.4" cy="46" r="1.5" fill="#236c78"/><circle cx="610" cy="54.6" r="1.5" fill="#236c78"/><circle cx="607.5" cy="62.9" r="1.5" fill="#236c78"/><circle cx="608.4" cy="70.1" r="1.5" fill="#236c78"/><path d="M588 -1 L633.2 -1 L625.2 18.3 L620 25 Q610 28.5 599.5 25 L595.4 18.3 Z" fill="url(#gSrc)" stroke="#555" stroke-width="0.6"/><path d="M595.4 18.3 L625.2 18.3" stroke="#666" stroke-width="0.6"/><text x="609.2" y="9.0" font-size="8" fill="#5a5a5a" textLength="23.8" lengthAdjust="spacingAndGlyphs" text-anchor="middle" >Xe-ion</text><text x="609.2" y="15.8" font-size="8" fill="#5a5a5a" textLength="23.8" lengthAdjust="spacingAndGlyphs" text-anchor="middle" >source</text><text x="616.5" y="107.3" font-size="10" fill="#444" textLength="30.7" lengthAdjust="spacingAndGlyphs" >Sr<tspan font-size="6.8" dy="3.5">2</tspan><tspan dy="-3.5">RuO</tspan><tspan font-size="6.8" dy="3.5">4</tspan></text><path d="M661.2 118.2 V102.5 M661.2 118.2 H678.4 M661.2 118.2 L653.8 125.7" stroke="#666" stroke-width="0.7" fill="none"/><path d="M679.2 118.2 l-2.2 -1 v2 z" fill="#444"/><text x="662" y="102.9" font-size="9.4" fill="#222" >c</text><text x="680.4" y="119" font-size="9.4" fill="#222" >b</text><text x="654.8" y="131.1" font-size="9.4" fill="#222" >a</text></g>
<g><circle cx="540.3" cy="171" r="24" fill="url(#gGlow)"/><path d="M528.3 172 A12.1 12.1 0 1 1 552.3 172 Q551.5 179 547.2 184.5 L546.5 189 L534.3 189 L533.6 184.5 Q529 179 528.3 172 Z" fill="url(#gBulb)" stroke="#efa830" stroke-width="0.8"/><path d="M535 168 L539 177 L539 186 M546 168 L542 177 L542 186 M537.5 167.5 L539.5 172 L540.5 166.5 L541.5 172 L543.5 167.5" stroke="#4a3a18" stroke-width="0.65" fill="none"/><path d="M534.8 189 h11.2 l-0.3 9.5 q-0.5 1.8 -2.5 2.2 h-5.6 q-2 -0.4 -2.5 -2.2 z" fill="#7a7a7a"/><path d="M535 191.3 h10.8 M535 193.8 h10.8 M535.2 196.3 h10.4" stroke="#c4c4c4" stroke-width="0.8"/><path d="M537.8 200.4 h5 l-0.8 1.2 h-3.4 z" fill="#2a2a2a"/><path d="M626.0,172.7 L567.6,210.1 L585.6,210.1 L641.1,174.6" fill="#f4f4f4" stroke="#f4ac6c" stroke-width="0.75" stroke-linejoin="round"/><path d="M625.6,168.3 L567.2,205.7 L585.2,205.7 L640.7,170.2" fill="#f4f4f4" stroke="#f4ac6c" stroke-width="0.75" stroke-linejoin="round"/><path d="M625.2,163.8 L566.8,201.2 L584.8,201.2 L640.3,165.8" fill="#f4f4f4" stroke="#f4ac6c" stroke-width="0.75" stroke-linejoin="round"/><path d="M624.7,159.4 L566.3,196.8 L584.3,196.8 L639.8,161.3" fill="#f4f4f4" stroke="#f4ac6c" stroke-width="0.75" stroke-linejoin="round"/><path d="M624.3,154.9 L565.9,192.3 L583.9,192.3 L639.4,156.8" fill="#f4f4f4" stroke="#f4ac6c" stroke-width="0.75" stroke-linejoin="round"/><path d="M623.8,150.5 L565.4,187.9 L583.4,187.9 L638.9,152.4" fill="#f4f4f4" stroke="#f4ac6c" stroke-width="0.75" stroke-linejoin="round"/><path d="M623.4,146.0 L565.0,183.4 L583.0,183.4 L638.5,147.9" fill="#f4f4f4" stroke="#f4ac6c" stroke-width="0.75" stroke-linejoin="round"/><path d="M623.0,141.6 L564.6,179.0 L582.6,179.0 L638.1,143.5" fill="#f4f4f4" stroke="#f4ac6c" stroke-width="0.75" stroke-linejoin="round"/><path d="M622.5,137.1 L564.1,174.5 L582.1,174.5 L637.6,139.0" fill="#f4f4f4" stroke="#f4ac6c" stroke-width="0.75" stroke-linejoin="round"/><path d="M622.1,132.7 L563.7,170.1 L581.7,170.1 L637.2,134.6" fill="#efefef" stroke="#f4ac6c" stroke-width="0.75" stroke-linejoin="round"/><path d="M621.6,128.2 L563.2,165.6 L581.2,165.6 L636.7,130.1" fill="#e9e9e9" stroke="#f4ac6c" stroke-width="0.75" stroke-linejoin="round"/><path d="M621.2,123.8 L562.8,161.2 L580.8,161.2 L636.3,125.7" fill="url(#gPlate)" stroke="#f4ac6c" stroke-width="0.75" stroke-linejoin="round"/><path d="M598.0,167.3 L598.7,167.2 L599.4,167.0 L600.1,166.6 L600.8,166.0 L601.5,165.2 L602.2,164.3 L602.9,163.3 L603.6,162.3 L604.3,161.2 L605.0,160.2 L605.7,159.2 L606.4,158.4 L607.1,157.6 L607.8,157.0 L608.5,156.6 L609.2,156.3 L609.9,156.3 L610.6,156.5 L611.3,156.8 L612.0,157.4 L612.7,158.1 L613.4,158.9 L614.1,159.8 L614.8,160.9 L615.5,161.9 L616.2,162.9 L616.9,163.9 L617.6,164.9 L618.3,165.7 L619.0,166.4 L619.7,166.9 L620.4,167.2 L621.1,167.3 L621.8,167.2 L622.5,166.9 L623.2,166.5 L623.9,165.9 L624.6,165.1 L625.3,164.2 L626.0,163.2 L626.7,162.1 L627.4,161.1 L628.1,160.1 L628.8,159.1 L629.5,158.3 L630.2,157.5 L630.9,156.9 L631.6,156.5 L632.3,156.3 L633.0,156.3 L633.7,156.5 L634.4,156.9 L635.1,157.5 L635.8,158.2 L636.5,159.0 L637.2,160.0 L637.9,161.0 L638.6,162.1 L639.3,163.1 L640.0,164.1 L640.7,165.0 L641.4,165.8 L642.1,166.4 L642.8,166.9 L643.5,167.2 L644.2,167.3 L644.9,167.2 L645.6,166.9 L646.3,166.4 L647.0,165.8 L647.7,165.0 L648.4,164.0 L649.1,163.0 L649.8,162.0" stroke="#a03848" stroke-width="1.05" fill="none"/><path d="M595.6,182.1 L596.3,182.8 L597.0,183.3 L597.7,183.5 L598.4,183.4 L599.1,183.2 L599.8,182.6 L600.5,181.9 L601.2,181.0 L601.9,180.1 L602.6,179.2 L603.3,178.3 L604.0,177.5 L604.7,176.9 L605.4,176.6 L606.1,176.5 L606.8,176.7 L607.5,177.1 L608.2,177.7 L608.9,178.5 L609.6,179.4 L610.3,180.4 L611.0,181.3 L611.7,182.1 L612.4,182.8 L613.1,183.3 L613.8,183.5 L614.5,183.4 L615.2,183.2 L615.9,182.6 L616.6,181.9 L617.3,181.0 L618.0,180.1 L618.7,179.2 L619.4,178.3 L620.1,177.5 L620.8,176.9 L621.5,176.6 L622.2,176.5 L622.9,176.7 L623.6,177.1 L624.3,177.7 L625.0,178.5 L625.7,179.4 L626.4,180.4 L627.1,181.3 L627.8,182.1 L628.5,182.8 L629.2,183.3 L629.9,183.5 L630.6,183.4 L631.3,183.2 L632.0,182.6 L632.7,181.9 L633.4,181.0 L634.1,180.1 L634.8,179.2 L635.5,178.3" stroke="#3438a0" stroke-width="1.05" fill="none"/><path d="M553.5 168.3 Q556 159 560 157.8 Q563 157 565 159" stroke="#a03848" stroke-width="1.05" fill="none"/><path d="M553.5 184.8 Q556 177 560.5 176.8 Q563 177 565 179.3" stroke="#3438a0" stroke-width="1.05" fill="none"/><path d="M573.2 209.4 L558.5 219.5 L558.5 245.2 L595.8 221.4 M611.2 211.5 L645.4 189.7 L644.5 169.2 L636 174.5" stroke="#444" stroke-width="0.6" fill="none"/><circle cx="600.6" cy="218.4" r="5" fill="none" stroke="#555" stroke-width="0.6"/><circle cx="606.4" cy="214.2" r="5" fill="none" stroke="#555" stroke-width="0.6"/><text x="0" y="0" font-size="8.4" fill="#333" textLength="52.5" lengthAdjust="spacingAndGlyphs" transform="translate(588.5,238) rotate(-35.3)" >current source</text></g>
</svg>
</body></html>
